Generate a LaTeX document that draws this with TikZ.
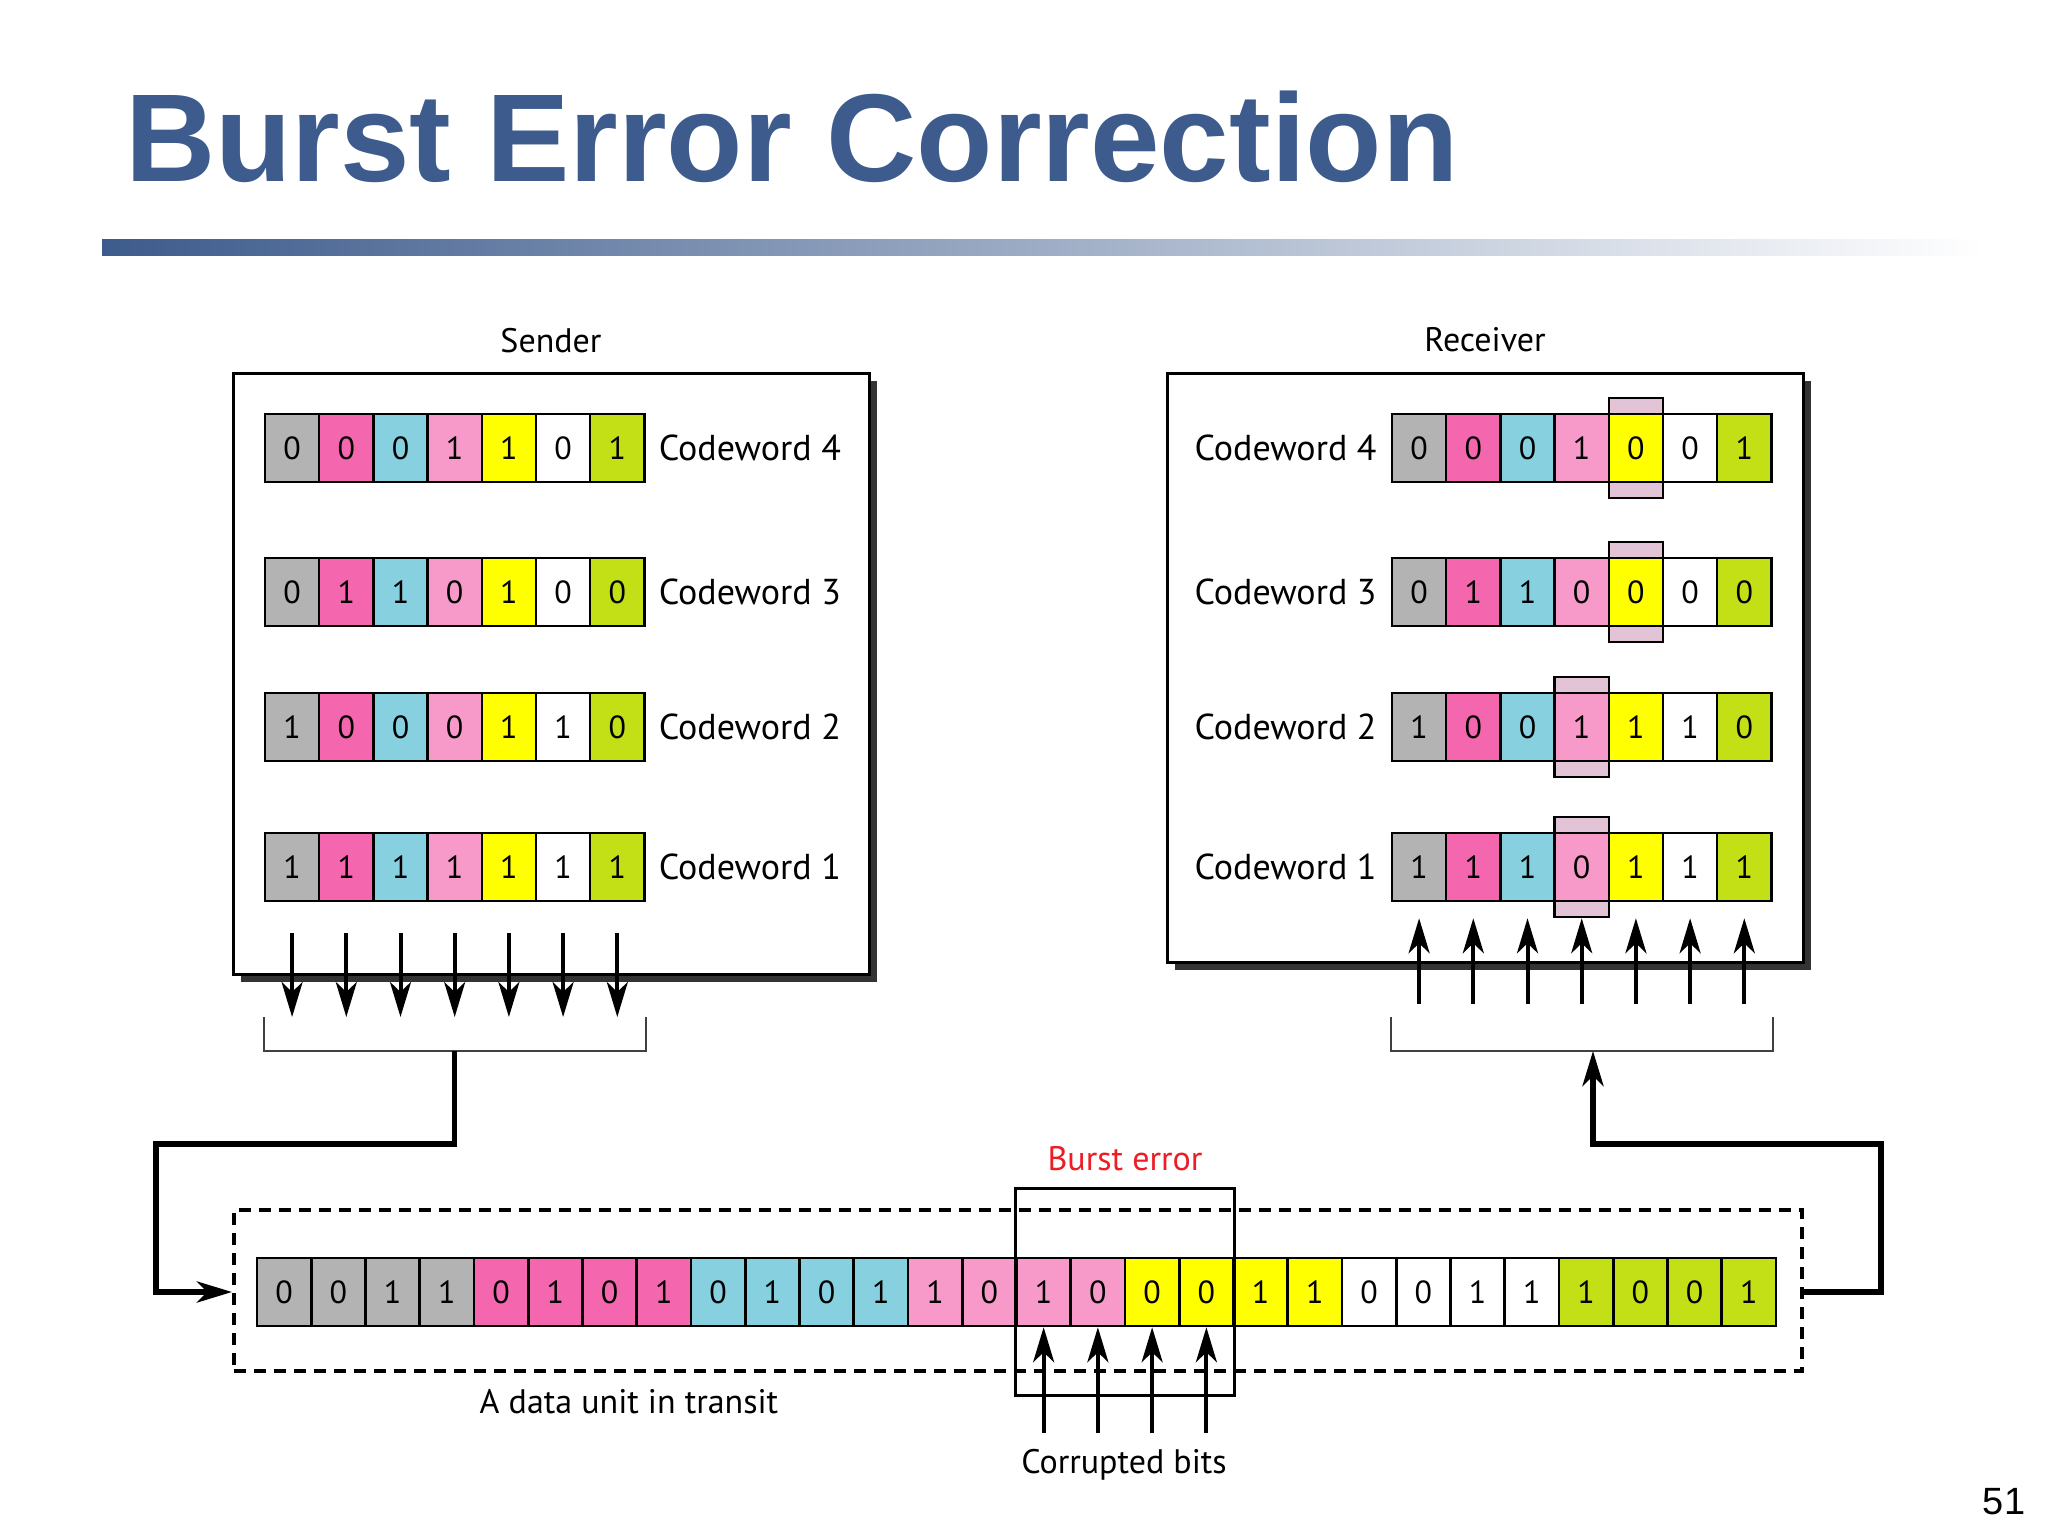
\documentclass[tikz,border=0pt]{standalone}
\usepackage{fontspec}
\setmainfont{PT Sans}
\newfontfamily\titlefont{Liberation Sans}
\usetikzlibrary{arrows.meta,positioning,fit,calc,shadows}
\definecolor{titleblue}{HTML}{3D5B8C}
\definecolor{c1}{HTML}{B3B3B3}
\definecolor{c2}{HTML}{F466AE}
\definecolor{c3}{HTML}{86D0E0}
\definecolor{c4}{HTML}{F79AC9}
\definecolor{c5}{HTML}{FFFF00}
\definecolor{c6}{HTML}{FFFFFF}
\definecolor{c7}{HTML}{C2E015}
\definecolor{hilite}{HTML}{E2C4D6}
\definecolor{burstred}{HTML}{EE1C25}

\begin{document}
\begin{tikzpicture}[x=1pt, y=-1pt,
  node distance=13pt,
  lbl/.style={inner sep=0pt, font=\fontsize{34}{40}\selectfont},
  cwlbl/.style={lbl, font=\fontsize{36}{40}\selectfont},
  bit/.style={draw, line width=2.5pt, minimum width=54.2pt, minimum height=68pt,
    inner sep=0pt, font=\fontsize{32}{36}\selectfont},
  hl/.style={bit, fill=hilite, minimum height=100pt},
  panel/.style={draw, line width=3pt, fill=white, inner sep=0pt,
    drop shadow={shadow xshift=8pt, shadow yshift=-8pt, fill=black!80, opacity=1}},
  unitbox/.style={draw, line width=4pt, dash pattern=on 12pt off 8pt, inner sep=0pt},
  brk/.style={line width=2pt, draw=black!75},
  ar/.style={-{Stealth[length=35pt, width=21pt, inset=10pt]}, line width=4pt},
  link/.style={ar, line width=5.5pt}]
  \path[use as bounding box, fill=white] (0,0) rectangle (2048,1536);

  % title and rule
  \node[anchor=base west, inner sep=0pt, text=titleblue,
    font=\titlefont\bfseries\fontsize{125}{128}\selectfont] (title) at (125,182) {Burst Error Correction};
  \shade[left color=titleblue, middle color=titleblue!35, right color=white] (102,239) rectangle (1985,255);

  % sender and receiver panels
  \node[panel, minimum width=636pt, minimum height=601pt] (sbox) at (551,673.5) {};
  \node[lbl, above=18pt of sbox] (sender) {Sender};
  \node[panel, minimum width=636pt, minimum height=589pt] (rbox) at (1485,667.5) {};
  \node[lbl, above=19pt of rbox] (receiver) {Receiver};

  \foreach \cw/\y/\bits in {4/448/{0,0,0,1,1,0,1}, 3/592/{0,1,1,0,1,0,0},
      2/727/{1,0,0,0,1,1,0}, 1/867/{1,1,1,1,1,1,1}} {
    \foreach \bv [count=\i] in \bits
      \node[bit, fill=c\i] (s\cw-\i) at ({265+54.2*(\i-0.5)},\y) {\bv};
    \node[cwlbl, right=13pt of s\cw-7] (sl\cw) {Codeword \cw};
  }

  \foreach \cw/\y/\hc/\bits in {4/448/5/{0,0,0,1,0,0,1}, 3/592/5/{0,1,1,0,0,0,0},
      2/727/4/{1,0,0,1,1,1,0}, 1/867/4/{1,1,1,0,1,1,1}} {
    \foreach \bv [count=\i] in \bits {
      \ifnum\i=\hc \node[hl] (rh\cw) at ({1392+54.2*(\i-0.5)},\y) {};\fi
      \node[bit, fill=c\i] (r\cw-\i) at ({1392+54.2*(\i-0.5)},\y) {\bv};
    }
    \node[cwlbl, left=14pt of r\cw-1] (rl\cw) {Codeword \cw};
  }

  % columns out of the sender, into the receiver
  \coordinate (brtop) at (0,1017);
  \coordinate (brbot) at (0,1051);
  \foreach \i in {1,...,7}
    \draw[ar] ([yshift=-31pt]s1-\i.south) -- (s1-\i.south |- brtop);
  \draw[brk] (s1-1.west |- brtop) -- (s1-1.west |- brbot) -- (s1-7.east |- brbot) -- (s1-7.east |- brtop);
  \coordinate (smid) at ($(s1-1.west |- brbot)!.5!(s1-7.east |- brbot)$);

  \coordinate (rarr) at (0,1004);
  \foreach \i in {1,...,7}
    \draw[ar] (r1-\i.south |- rarr) -- ([yshift=-16pt]r1-\i.south);
  \draw[brk] (r1-1.west |- brtop) -- (r1-1.west |- brbot) -- (r1-7.east |- brbot) -- (r1-7.east |- brtop);
  \coordinate (rmid) at (1593,1051);

  % data unit in transit
  \node[unitbox, minimum width=1568pt, minimum height=161pt] (unit) at (1018,1290.5) {};
  \foreach \bv [count=\i] in {0,0,1,1,0,1,0,1,0,1,0,1,1,0,1,0,0,0,1,1,0,0,1,1,1,0,0,1} {
    \pgfmathtruncatemacro\g{(\i+3)/4}
    \node[bit, fill=c\g] (t\i) at ({257+54.25*(\i-0.5)},1292) {\bv};
  }
  \node[draw, line width=3pt, fit=(t15)(t18), inner xsep=0pt, inner ysep=68pt] (burst) {};
  \node[lbl, text=burstred, above=16pt of burst] (berr) {Burst error};
  \coordinate (cbtop) at (0,1433);
  \foreach \i in {15,...,18}
    \draw[ar] (t\i.south |- cbtop) -- (t\i.south);
  \node[lbl, anchor=base] (cbits) at (1124,1473) {Corrupted bits};
  \node[lbl, anchor=base] (dunit) at (629,1413) {A data unit in transit};

  % links
  \coordinate (lbend) at (156,1144);
  \draw[link] (smid) |- (lbend) |- (unit.west |- t1.center);
  \coordinate (rbend) at (1881,1144);
  \draw[link] (unit.east |- t28.center) -| (rbend) -| (rmid);

  \node[anchor=base, inner sep=0pt, font=\titlefont\fontsize{38}{40}\selectfont] (pnum) at (2004,1514) {51};
\end{tikzpicture}
\end{document}
